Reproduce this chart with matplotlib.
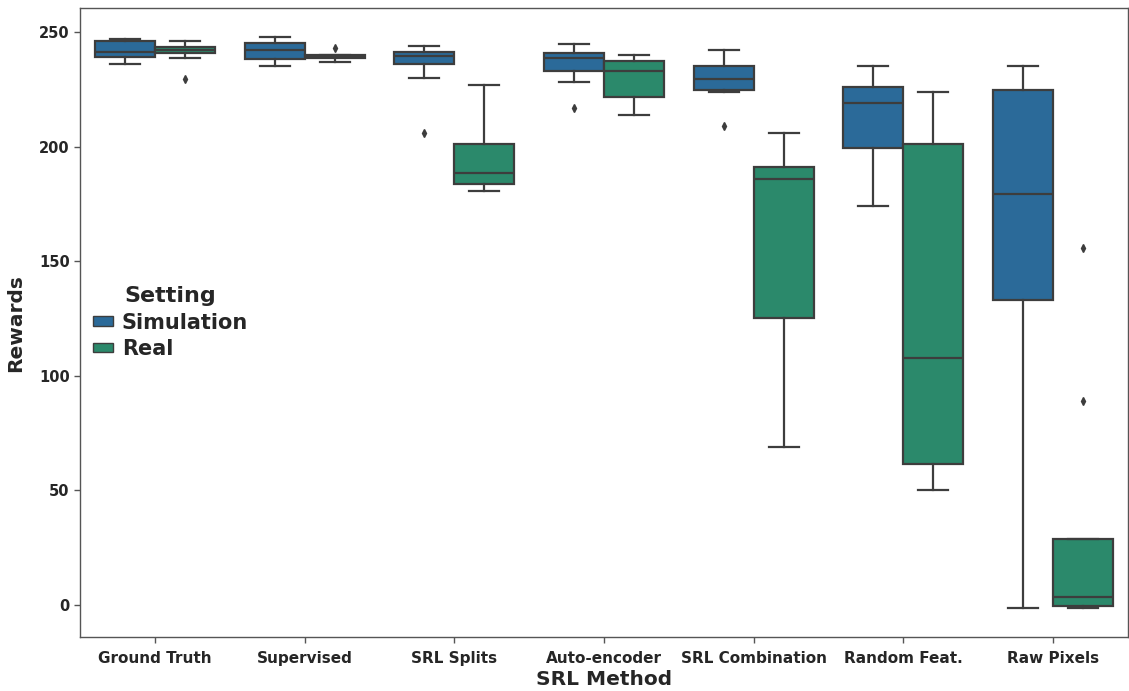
import matplotlib
matplotlib.use("Agg")
import matplotlib.pyplot as plt
from matplotlib.patches import Patch
import numpy as np

methods = ["Ground Truth", "Supervised", "SRL Splits", "Auto-encoder",
           "SRL Combination", "Random Feat.", "Raw Pixels"]
settings = ["Simulation", "Real"]

# box statistics: [whislo, q1, med, q3, whishi]
sim_stats = [
    [236.2, 239.2, 241.5, 246.1, 247.0],
    [235.5, 238.4, 242.4, 245.4, 248.0],
    [230.0, 236.0, 239.8, 241.3, 244.2],
    [228.2, 233.1, 238.9, 241.1, 245.1],
    [224.0, 224.7, 229.7, 235.2, 242.1],
    [174.2, 199.5, 219.2, 226.1, 235.2],
    [-1.5, 133.0, 179.5, 224.7, 235.2],
]
sim_fliers = [[], [], [205.9], [217.1], [209.1], [], []]

real_stats = [
    [238.7, 240.8, 242.1, 243.8, 246.1],
    [237.1, 238.8, 239.5, 240.2, 240.2],
    [180.9, 183.7, 188.7, 201.4, 227.2],
    [213.9, 221.9, 233.3, 237.6, 239.9],
    [68.9, 125.2, 186.0, 191.2, 205.9],
    [50.2, 61.5, 107.8, 201.4, 224.0],
    [-1.5, -0.3, 3.3, 28.7, 28.7],
]
real_fliers = [[229.8], [243.3], [], [], [], [], [156.0, 89.2]]

colors = ["#2b6a99", "#2b896b"]
line_c = "#3d3d3d"

fig = plt.figure(figsize=(11.29, 6.91), dpi=100)
ax = fig.add_axes([0.071, 0.078, 0.928, 0.91])

def make(stats, fliers):
    out = []
    for s, f in zip(stats, fliers):
        out.append(dict(whislo=s[0], q1=s[1], med=s[2], q3=s[3], whishi=s[4], fliers=f))
    return out

x = np.arange(len(methods))
width = 0.4
for k, (stats, fl) in enumerate([(sim_stats, sim_fliers), (real_stats, real_fliers)]):
    pos = x + (k - 0.5) * width
    ax.bxp(make(stats, fl), positions=pos, widths=width, patch_artist=True,
           showfliers=True, manage_ticks=False,
           boxprops=dict(facecolor=colors[k], edgecolor=line_c, linewidth=1.6),
           medianprops=dict(color=line_c, linewidth=1.6),
           whiskerprops=dict(color=line_c, linewidth=1.6),
           capprops=dict(color=line_c, linewidth=1.6),
           capwidths=width * 0.5,
           flierprops=dict(marker="d", markersize=4, markerfacecolor=line_c,
                           markeredgecolor=line_c, linestyle="none"))

ax.set_xlim(-0.5, len(methods) - 0.5)
ax.set_ylim(-14, 260.5)
ax.set_xticks(x)
ax.set_xticklabels(methods, fontsize=11, fontweight="bold", color="#262626")
ax.set_yticks([0, 50, 100, 150, 200, 250])
ax.set_yticklabels(["0", "50", "100", "150", "200", "250"], fontsize=10.5,
                   fontweight="bold", color="#262626")
ax.tick_params(axis="both", length=4, width=1, color="#555555")
ax.tick_params(axis="x", pad=6)
for sp in ax.spines.values():
    sp.set_color("#555555")
    sp.set_linewidth(1.0)
ax.set_xlabel("SRL Method", fontsize=14.5, fontweight="bold", color="#262626", labelpad=3)
ax.set_ylabel("Rewards", fontsize=14.5, fontweight="bold", color="#262626", labelpad=10)

handles = [Patch(facecolor=colors[i], edgecolor=line_c, linewidth=1, label=settings[i])
           for i in range(2)]
leg = ax.legend(handles=handles, title="Setting", loc="center left",
                bbox_to_anchor=(0.0, 0.50), frameon=False,
                prop=dict(size=15, weight="bold"), handlelength=1.0,
                handleheight=0.35, handletextpad=0.4, labelspacing=0.3,
                borderaxespad=0.2)
leg.get_title().set_fontsize(16)
leg.get_title().set_fontweight("bold")
leg.get_title().set_color("#262626")
for t in leg.get_texts():
    t.set_color("#262626")

fig.savefig("out.png", dpi=100)
